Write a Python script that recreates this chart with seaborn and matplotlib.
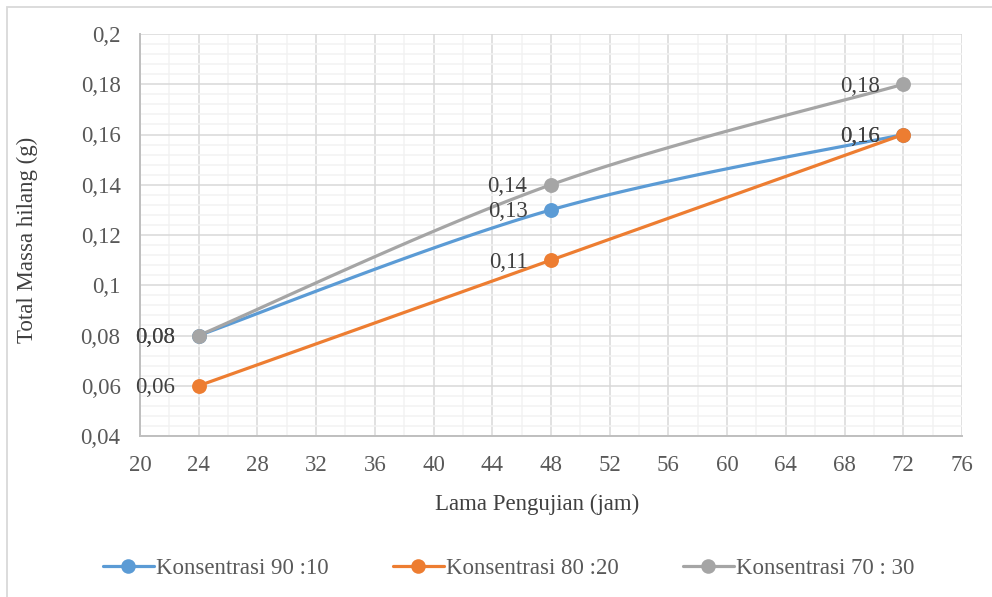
import numpy as np
import pandas as pd
import matplotlib
matplotlib.use("Agg")
import matplotlib.pyplot as plt
from matplotlib.lines import Line2D
from matplotlib.patches import Rectangle
from matplotlib.ticker import MultipleLocator, FixedLocator
import seaborn as sns

# Data
jam = [24, 48, 72]
massa_90_10 = [0.08, 0.13, 0.16]
massa_80_20 = [0.06, 0.11, 0.16]
massa_70_30 = [0.08, 0.14, 0.18]
series_names = ["Konsentrasi 90 :10", "Konsentrasi 80 :20", "Konsentrasi 70 : 30"]
series_values = [massa_90_10, massa_80_20, massa_70_30]
colors = ["#5B9BD5", "#ED7D31", "#A5A5A5"]

x_ticks = list(range(20, 77, 4))
y_ticks = [0.04, 0.06, 0.08, 0.10, 0.12, 0.14, 0.16, 0.18, 0.20]
y_tick_labels = ["0,04", "0,06", "0,08", "0,1", "0,12", "0,14", "0,16", "0,18", "0,2"]

XLIM = (20, 76)
YLIM = (0.04, 0.20)
FS = 16.5

sns.set_theme(style="white")
plt.rcParams["font.family"] = ["Liberation Serif", "DejaVu Serif"]

W, H = 992, 597
fig = plt.figure(figsize=(W / 100, H / 100), dpi=100)
ax_l, ax_r, ax_t, ax_b = 140, 962, 34, 436
ax = fig.add_axes([ax_l / W, 1 - ax_b / H, (ax_r - ax_l) / W, (ax_b - ax_t) / H])
AX_W, AX_H = ax_r - ax_l, ax_b - ax_t


def fmt(v):
    return f"{v:.2f}".rstrip("0").rstrip(".").replace(".", ",")


def smooth_curve(xs, ys, n=60):
    """Bezier smoothing through the points (control points at 1/6 of the neighbour chord)."""
    px = (np.asarray(xs, float) - XLIM[0]) / (XLIM[1] - XLIM[0]) * AX_W
    py = (np.asarray(ys, float) - YLIM[0]) / (YLIM[1] - YLIM[0]) * AX_H
    P = np.column_stack([px, py])
    m = len(P)
    out = []
    for i in range(m - 1):
        p0 = P[i - 1] if i > 0 else P[i]
        p1, p2 = P[i], P[i + 1]
        p3 = P[i + 2] if i + 2 < m else P[i + 1]
        c1 = p1 + (p2 - p0) / 6
        c2 = p2 - (p3 - p1) / 6
        t = np.linspace(0, 1, n)[:, None]
        seg = ((1 - t) ** 3) * p1 + 3 * ((1 - t) ** 2) * t * c1 + 3 * (1 - t) * t ** 2 * c2 + t ** 3 * p2
        out.append(seg if i == 0 else seg[1:])
    out = np.vstack(out)
    sx = out[:, 0] / AX_W * (XLIM[1] - XLIM[0]) + XLIM[0]
    sy = out[:, 1] / AX_H * (YLIM[1] - YLIM[0]) + YLIM[0]
    return sx, sy


# Grid
ax.set_xlim(*XLIM)
ax.set_ylim(*YLIM)
ax.xaxis.set_major_locator(FixedLocator(x_ticks))
ax.yaxis.set_major_locator(FixedLocator(y_ticks))
ax.xaxis.set_minor_locator(MultipleLocator(2))
ax.yaxis.set_minor_locator(MultipleLocator(0.004))
ax.grid(which="minor", color="#F2F2F2", linewidth=1.1, zorder=0)
ax.grid(which="major", color="#D9D9D9", linewidth=1.1, zorder=0)
ax.set_axisbelow(True)

# Curves and markers
for name, vals, col in zip(series_names, series_values, colors):
    sx, sy = smooth_curve(jam, vals)
    curve = pd.DataFrame({"jam": sx, "massa": sy})
    sns.lineplot(data=curve, x="jam", y="massa", sort=False, color=col, linewidth=2.3,
                 ax=ax, zorder=3, legend=False)
    pts = pd.DataFrame({"jam": jam, "massa": vals})
    sns.scatterplot(data=pts, x="jam", y="massa", color=col, s=115, edgecolor=col,
                    linewidth=0, ax=ax, zorder=4, legend=False)

# Data labels
for vals in series_values:
    for xv, yv in zip(jam, vals):
        ax.annotate(fmt(yv), (xv, yv), xytext=(-17, -1.5), textcoords="offset points",
                    ha="right", va="center", fontsize=FS, color="#404040", zorder=5)

# Axes styling
for side in ["top", "right"]:
    ax.spines[side].set_visible(False)
for side in ["left", "bottom"]:
    ax.spines[side].set_color("#BFBFBF")
    ax.spines[side].set_linewidth(1.4)
ax.tick_params(which="major", direction="out", length=5, width=1.2, color="#BFBFBF",
               labelsize=FS, labelcolor="#595959", pad=9)
ax.tick_params(which="minor", length=0)
ax.set_yticklabels(y_tick_labels)
ax.set_xticklabels([str(v) for v in x_ticks])
ax.set_xlabel("")
ax.set_ylabel("")

fig.text(27 / W, 1 - 240 / H, "Total Massa hilang (g)", rotation=90, ha="center", va="center",
         fontsize=FS, color="#404040")
fig.text(537 / W, 1 - 504 / H, "Lama Pengujian (jam)", ha="center", va="center",
         fontsize=FS, color="#404040")

# Legend
handles = [Line2D([0], [0], color=c, linewidth=2.3, marker="o", markersize=10.5,
                  markeredgewidth=0) for c in colors]
fig.legend(handles, series_names, loc="center", bbox_to_anchor=(509 / W, 1 - 568 / H),
           ncol=3, frameon=False, fontsize=FS, labelcolor="#595959", handlelength=2.2,
           handletextpad=0.12, columnspacing=2.8, borderaxespad=0)

# Chart frame
fig.patches.append(Rectangle((7 / W, -0.05), 1.1, 1 - 7 / H + 0.05, transform=fig.transFigure,
                             fill=False, edgecolor="#D9D9D9", linewidth=1.3, zorder=0))

fig.savefig("out.png", dpi=100)
